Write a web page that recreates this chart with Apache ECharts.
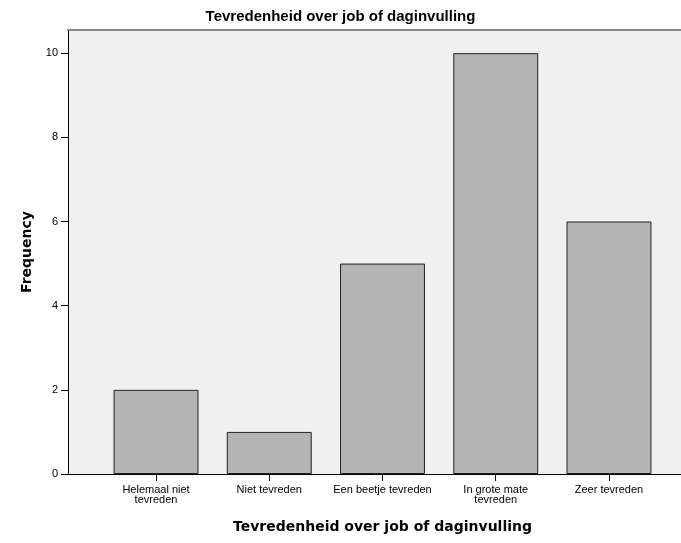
<!DOCTYPE html>
<html><head><meta charset="utf-8">
<script src="https://cdn.jsdelivr.net/npm/echarts@6/dist/echarts.min.js"></script>
<style>html,body{margin:0;padding:0;background:#fff}#c{width:681px;height:543px}</style>
</head><body><div id="c"></div>
<script>
const categories = ["Helemaal niet\ntevreden", "Niet tevreden", "Een beetje tevreden", "In grote mate\ntevreden", "Zeer tevreden"];
const frequencies = [2, 1, 5, 10, 6];
const yTicks = [0, 2, 4, 6, 8, 10];
const titleText = "Tevredenheid over job of daginvulling";
const xTitle = "Tevredenheid over job of daginvulling";
const yTitle = "Frequency";

const font = "'Liberation Sans', Arial, sans-serif";
const boldFont = "'DejaVu Sans', Verdana, sans-serif";
const yMax = 10.55;
const chart = echarts.init(document.getElementById('c'));
chart.setOption({
  animation: false,
  title: { text: titleText, left: 'center', top: 4,
    textStyle: { fontFamily: font, fontSize: 15, fontWeight: 'bold', color: '#000' } },
  grid: [
    { left: 68, right: 0, top: 30, bottom: 69, show: true, backgroundColor: '#f0f0f0', borderWidth: 0 },
    { left: 99.4, right: 15.4, top: 30, bottom: 69 }
  ],
  xAxis: [
    { gridIndex: 0, type: 'value', min: 0, max: 1, position: 'bottom',
      axisLine: { show: true, lineStyle: { color: '#000', width: 1 } },
      axisTick: { show: false }, axisLabel: { show: false }, splitLine: { show: false } },
    { gridIndex: 0, type: 'value', min: 0, max: 1, position: 'top',
      axisLine: { show: true, lineStyle: { color: '#888', width: 2 } },
      axisTick: { show: false }, axisLabel: { show: false }, splitLine: { show: false } },
    { gridIndex: 1, type: 'category', data: categories, position: 'bottom',
      axisLine: { show: false },
      axisTick: { show: true, alignWithLabel: true, length: 7, inside: false, lineStyle: { color: '#000' } },
      axisLabel: { fontFamily: font, fontSize: 11, color: '#000', lineHeight: 10, margin: 11, interval: 0 },
      name: xTitle, nameLocation: 'middle', nameGap: 46,
      nameTextStyle: { fontFamily: boldFont, fontSize: 14, fontWeight: 'bold', color: '#000' } }
  ],
  yAxis: [
    { gridIndex: 0, type: 'value', min: 0, max: yMax, interval: 2,
      axisLine: { show: true, lineStyle: { color: '#000', width: 1 } },
      axisTick: { show: true, length: 7, lineStyle: { color: '#000' } },
      axisLabel: { fontFamily: font, fontSize: 11, color: '#000', margin: 10, showMaxLabel: false,
        formatter: v => yTicks.includes(v) ? String(v) : '' },
      splitLine: { show: false },
      name: yTitle, nameLocation: 'middle', nameGap: 34,
      nameTextStyle: { fontFamily: boldFont, fontSize: 14, fontWeight: 'bold', color: '#000' } },
    { gridIndex: 1, type: 'value', min: 0, max: yMax, show: false }
  ],
  series: [{
    type: 'bar', xAxisIndex: 2, yAxisIndex: 1, data: frequencies,
    barCategoryGap: '25%',
    itemStyle: { color: '#b4b4b4', borderColor: '#222', borderWidth: 1 }
  }]
});
</script></body></html>
